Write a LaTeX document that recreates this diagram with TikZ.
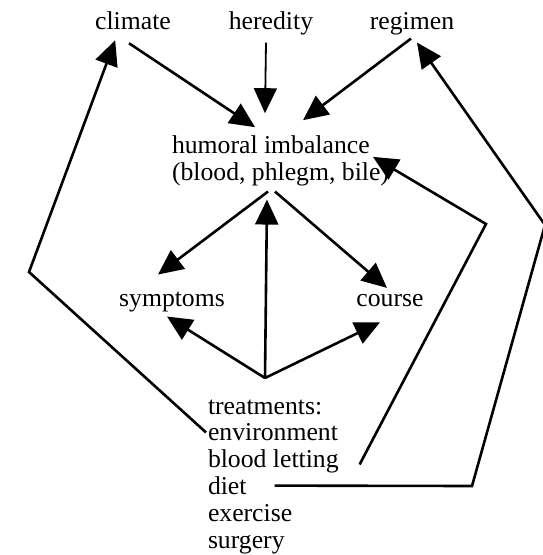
\documentclass[tikz,border=0pt]{standalone}
\usepackage{fontspec}
\setmainfont{Liberation Serif}
\usetikzlibrary{arrows.meta,calc}

\tikzset{
  lbl/.style={inner sep=0pt, outer sep=0pt},
  link/.style={line width=2.6pt, line join=miter},
  arr/.style={link, -{Triangle[length=25pt,width=23pt]}},
}

\begin{document}
\begin{tikzpicture}[x=1pt, y=-1pt, font=\fontsize{25.7}{26.8}\selectfont]
  \clip (0,0) rectangle (543,555);
  \fill[white] (0,0) rectangle (543,555);

  % causes
  \node[lbl, anchor=base] (clim) at (133,29) {climate};
  \node[lbl, anchor=base] (her)  at (271,29) {heredity};
  \node[lbl, anchor=base] (reg)  at (412,29) {regimen};

  % central state
  \node[lbl, anchor=base west] (hum1) at (172,153) {humoral imbalance};
  \node[lbl, anchor=base west] (hum2) at (172,180) {(blood, phlegm, bile)};

  % outcomes
  \node[lbl, anchor=base] (sym) at (172,306) {symptoms};
  \node[lbl, anchor=base] (cou) at (390,306) {course};

  % treatments list
  \node[lbl, anchor=base west] (trt)  at (208,414)   {treatments:};
  \node[lbl, anchor=base west] (env)  at (208,440.8) {environment};
  \node[lbl, anchor=base west] (bl)   at (208,467.6) {blood letting};
  \node[lbl, anchor=base west] (diet) at (208,494.4) {diet};
  \node[lbl, anchor=base west] (exer) at (208,521.2) {exercise};
  \node[lbl, anchor=base west] (surg) at (208,548)   {surgery};

  % junction and bends
  \coordinate (hub) at (265,378);
  \coordinate (lc)  at (29,272);
  \coordinate (bc)  at (486,224);
  \coordinate (dc)  at (472,486);
  \coordinate (rc)  at (545,225);

  % causes act on the humours
  \draw[arr] ($(clim.south)+(-4,14)$) -- ($(hum1.north west)+(83,-8)$);
  \draw[arr, line width=1.8pt] ($(her.south)+(-5,8)$) -- ($(hum1.north west)+(93,-22)$);
  \draw[arr] ($(reg.south)+(-1,4)$)   -- ($(hum1.north west)+(131,-15)$);

  % humours lead to symptoms and course
  \draw[arr] ($(hum2.south west)+(96,6)$)  -- ($(sym.north)+(-14,-17)$);
  \draw[arr] ($(hum2.south west)+(103,6)$) -- ($(cou.north)+(-3,-6)$);

  % treatments act back on everything
  \draw[arr] (hub) -- ($(hum2.south west)+(95,14)$);
  \draw[arr] (hub) -- ($(sym.south)+(-5,5)$);
  \draw[arr] (hub) -- ($(cou.south)+(-10,16)$);

  \draw[arr] ($(env.west)+(-2,0)$) -- (lc) -- ($(clim.south west)+(20,11)$);
  \draw[arr] ($(bl.east)+(21,3)$) -- (bc) -- ($(hum2.east)+(-16,-17)$);
  \draw[arr] ($(diet.east)+(28,0)$) -- (dc) -- (rc) -- ($(reg.south)+(5,8)$);
\end{tikzpicture}
\end{document}
